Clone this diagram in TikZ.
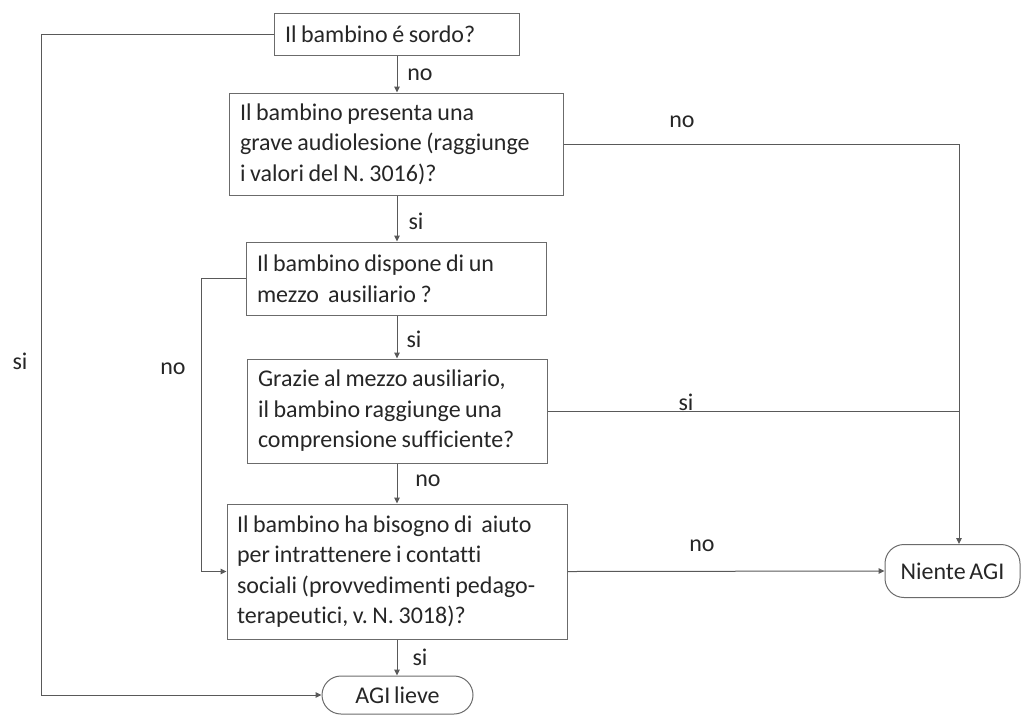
\documentclass[tikz,border=0pt]{standalone}
\usepackage{fontspec}
\setmainfont{Carlito}[Ligatures=NoCommon,WordSpace={0.7,0.6,0.6}]
\usetikzlibrary{arrows.meta,positioning,calc}
\newcommand\tightsp{\frenchspacing\spaceskip=0.19em\relax\xspaceskip=0.19em\relax}
\begin{document}
\begin{tikzpicture}[x=1pt,y=-1pt,
  every node/.style={font=\fontsize{24}{30.5}\selectfont, text=black!85},
  qbox/.style={draw=black!58, line width=1pt, align=left, inner sep=0pt, anchor=center},
  term/.style={draw=black!58, line width=1pt, rounded corners=19pt, inner sep=0pt, anchor=center},
  conn/.style={draw=black!65, line width=1pt},
  arr/.style={conn, -{Triangle[length=6pt,width=5.5pt]}},
  lbl/.style={inner sep=0pt, anchor=center}
]
\useasboundingbox (0,0) rectangle (1024,724);

\node[qbox, minimum width=245, minimum height=42, text width=223] (b1) at (396.5,34) {\tightsp Il bambino é sordo?};
\node[qbox, minimum width=334, minimum height=102, text width=312] (b2) at (396,144) {\tightsp Il bambino presenta una\\grave audiolesione (raggiunge\\i valori del N. 3016)?};
\node[qbox, minimum width=300, minimum height=73, text width=278] (b3) at (396,278.5) {\tightsp Il bambino dispone di un\\mezzo\ \ ausiliario ?};
\node[qbox, minimum width=300, minimum height=104, text width=278] (b4) at (397,411) {\tightsp Grazie al mezzo ausiliario,\\il bambino raggiunge una\\comprensione sufficiente?};
\node[qbox, minimum width=340, minimum height=135, text width=320] (b5) at (397,571.5) {\tightsp Il bambino ha bisogno di\ \ aiuto\\per intrattenere i contatti\\sociali (provvedimenti pedago-\\terapeutici, v. N. 3018)?};
\node[term, minimum width=151, minimum height=38] (agi) at (397.5,695) {AGI lieve};
\node[term, minimum width=135, minimum height=53] (n) at (952.5,571) {Niente AGI};

\coordinate (j) at (959,144);
\coordinate (js) at (959,411);
\coordinate (l1) at (41.5,34);
\coordinate (m1) at (201,278.5);

% vertical main flow
\draw[arr] (b1.south -| 397,0) -- (b2.north -| 397,0);
\draw[arr] (b2.south -| 397,0) -- (b3.north -| 397,0);
\draw[arr] (b3.south -| 397,0) -- (b4.north -| 397,0);
\draw[arr] (b4.south -| 397,0) -- (b5.north -| 397,0);
\draw[arr] (b5.south -| 397,0) -- (agi.north -| 397,0);

% right branches
\draw[conn] (b2.east) -- (j);
\draw[arr] (j) -- (n.north -| j);
\draw[conn] (b4.east) -- (js);
\draw[arr] (b5.east) -- (n.west);

% left branches
\draw[arr] (b1.west) -- (l1) -- (l1 |- agi.west) -- (agi.west);
\draw[arr] (b3.west) -- (m1) -- (m1 |- b5.west) -- (b5.west);

% labels
\node[lbl] at (420,75) {no};
\node[lbl] at (416,221) {si};
\node[lbl] at (414,339) {si};
\node[lbl] at (428,481) {no};
\node[lbl] at (420,657) {si};
\node[lbl] at (682,122) {no};
\node[lbl] at (686,402) {si};
\node[lbl] at (702,546) {no};
\node[lbl] at (20,361) {si};
\node[lbl] at (173,369) {no};
\end{tikzpicture}
\end{document}
